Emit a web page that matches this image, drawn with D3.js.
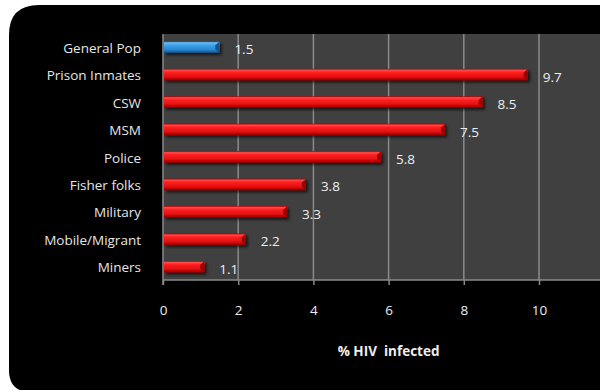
<!DOCTYPE html>
<html><head><meta charset="utf-8">
<script src="https://cdn.jsdelivr.net/npm/d3@7"></script>
<style>html,body{margin:0;padding:0;background:#fff;}svg{display:block;}</style>
</head><body>
<svg id="c" width="600" height="390"></svg>
<script>
const categories = ["General Pop","Prison Inmates","CSW","MSM","Police","Fisher folks","Military","Mobile/Migrant","Miners"];
const values = [1.5, 9.7, 8.5, 7.5, 5.8, 3.8, 3.3, 2.2, 1.1];
const highlight = ["General Pop"];
const xTicks = [0, 2, 4, 6, 8, 10];
const xTitle = "% HIV  infected";

const svg = d3.select("#c");
const font = "'Open Sans', 'Liberation Sans', sans-serif";

// black panel with rounded left corners
const px = 9, py = 5, rTL = 30, rBL = 22, pr = 620, pb = 392;
svg.append("path")
  .attr("d", `M${px+rTL},${py} L${pr},${py} L${pr},${pb} L${px+rBL},${pb} Q${px},${pb} ${px},${pb-rBL} L${px},${py+rTL} Q${px},${py} ${px+rTL},${py} Z`)
  .attr("fill", "#000");

const m = {left: 163, top: 34, bottom: 280};
const x = d3.scaleLinear().domain([0, 12]).range([m.left, m.left + 12*37.6]);
const y = d3.scaleBand().domain(categories).range([m.top, m.bottom]).paddingInner(0.58).paddingOuter(0.27);

// plot area
svg.append("rect").attr("x", x(0)).attr("y", m.top).attr("width", x(12)-x(0)).attr("height", m.bottom-m.top).attr("fill", "#404040");

// gridlines
svg.append("g").selectAll("line").data(xTicks.filter(d => d > 0).concat([12])).join("line")
  .attr("x1", d => x(d)).attr("x2", d => x(d)).attr("y1", m.top).attr("y2", m.bottom)
  .attr("stroke", "#8a8a8a").attr("stroke-width", 1.5);

// defs
const defs = svg.append("defs");
function grad(id, stops) {
  const g = defs.append("linearGradient").attr("id", id).attr("x1", 0).attr("y1", 0).attr("x2", 0).attr("y2", 1);
  stops.forEach(s => g.append("stop").attr("offset", s[0]).attr("stop-color", s[1]));
}
grad("gRed", [[0,"#b00000"],[0.12,"#ff4a4a"],[0.3,"#ff2020"],[0.7,"#e01010"],[0.85,"#c00000"],[1,"#8a0000"]]);
grad("gBlue", [[0,"#1a5a98"],[0.12,"#6cc0f4"],[0.3,"#3fa4ea"],[0.7,"#2a88d4"],[0.85,"#1e6cb0"],[1,"#154a80"]]);
const f = defs.append("filter").attr("id", "sh").attr("x", "-10%").attr("y", "-50%").attr("width", "130%").attr("height", "250%");
f.append("feGaussianBlur").attr("in", "SourceAlpha").attr("stdDeviation", 1.5);
f.append("feOffset").attr("dx", 2).attr("dy", 2).attr("result", "b");
f.append("feComponentTransfer").append("feFuncA").attr("type", "linear").attr("slope", 0.7);
const fm = f.append("feMerge"); fm.append("feMergeNode"); fm.append("feMergeNode").attr("in", "SourceGraphic");

// bars
const bh = y.bandwidth();
const bars = svg.append("g").selectAll("g").data(categories).join("g").attr("filter", "url(#sh)");
bars.append("rect")
  .attr("x", x(0) + 1).attr("y", d => y(d))
  .attr("width", (d, i) => x(values[i]) - x(0) - 1).attr("height", bh)
  .attr("fill", d => highlight.includes(d) ? "url(#gBlue)" : "url(#gRed)");
// right end bevel
bars.append("path")
  .attr("d", (d, i) => {
    const xe = x(values[i]), y0 = y(d), b = 3.5;
    return `M${xe-b},${y0+b} L${xe},${y0} L${xe},${y0+bh} L${xe-b},${y0+bh-b} Z`;
  })
  .attr("fill", d => highlight.includes(d) ? "#17528c" : "#9a0000");
bars.append("line")
  .attr("x1", (d, i) => x(values[i]) - 3.5).attr("x2", (d, i) => x(values[i]) - 3.5)
  .attr("y1", d => y(d) + 3.5).attr("y2", d => y(d) + bh - 3.5)
  .attr("stroke", d => highlight.includes(d) ? "#0f3d6a" : "#700000").attr("stroke-width", 0.8);

// value labels
svg.append("g").selectAll("text").data(categories).join("text")
  .attr("x", (d, i) => x(values[i]) + 15).attr("y", d => y(d) + bh/2 + 7)
  .attr("fill", "#eeeeee").attr("font-family", font).attr("font-size", 13.5)
  .text((d, i) => values[i]);

// category labels
svg.append("g").selectAll("text").data(categories).join("text")
  .attr("x", 141).attr("y", d => y(d) + bh/2 + 5.5).attr("text-anchor", "end")
  .attr("fill", "#e6e6e6").attr("font-family", font).attr("font-size", 13.5)
  .text(d => d);

// axes lines
svg.append("line").attr("x1", x(0)).attr("x2", 600).attr("y1", m.bottom).attr("y2", m.bottom).attr("stroke", "#8a8a8a").attr("stroke-width", 1.5);
svg.append("line").attr("x1", x(0)).attr("x2", x(0)).attr("y1", m.top).attr("y2", m.bottom + 5).attr("stroke", "#8a8a8a").attr("stroke-width", 1.5);

// x axis ticks
const xa = svg.append("g").attr("transform", `translate(0,${m.bottom})`)
  .call(d3.axisBottom(x).tickValues(xTicks).tickSize(5).tickPadding(20).tickFormat(d3.format("d")));
xa.select(".domain").remove();
xa.selectAll(".tick line").attr("stroke", "#8a8a8a").attr("stroke-width", 1.5);
xa.selectAll(".tick text").attr("fill", "#eeeeee").attr("font-family", font).attr("font-size", 13.5);

// title
svg.append("text").attr("x", x(6)).attr("y", 356).attr("text-anchor", "middle")
  .attr("fill", "#eeeeee").attr("font-family", font).attr("font-size", 13.5).attr("font-weight", "bold")
  .attr("xml:space", "preserve").style("white-space", "pre")
  .text(xTitle);
</script>
</body></html>
